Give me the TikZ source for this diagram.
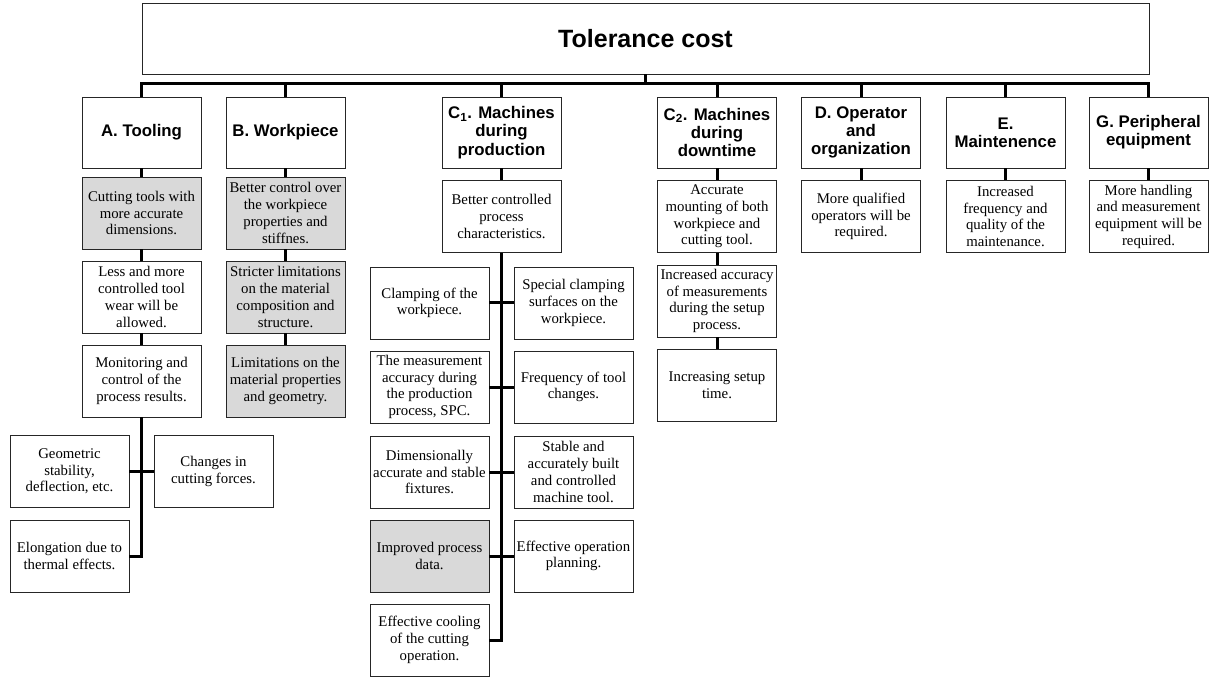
\documentclass[tikz,border=0pt]{standalone}
\usepackage{fontspec}
\setmainfont{Liberation Serif}
\newfontfamily\hdrfont{Liberation Sans}
\definecolor{boxgray}{RGB}{217,217,217}
\begin{document}
\begin{tikzpicture}[x=1pt,y=-1pt,
  box/.style={draw=black!85, line width=0.9pt, fill=white, minimum width=119pt,
    minimum height=72pt, inner sep=0pt, align=center,
    font=\fontsize{14.8}{16.7}\selectfont},
  gbox/.style={box, fill=boxgray},
  hbox/.style={box, minimum height=71pt,
    font=\hdrfont\bfseries\fontsize{16.8}{18.3}\selectfont},
  conn/.style={line width=3pt, draw=black}]
\useasboundingbox (0,0) rectangle (1211,679);

% title
\node[box, minimum width=1007pt, minimum height=71pt,
  font=\hdrfont\bfseries\fontsize{25}{30}\selectfont] (top) at (645.5,38.5) {Tolerance cost};
\coordinate (bus) at (645.5,84);

% headers
\node[hbox] (A)  at (141.5,132.5) {A. Tooling};
\node[hbox] (B)  at (285.5,132.5) {B. Workpiece};
\node[hbox] (C1) at (501.5,132.5) {C\textsubscript{1}. Machines\\during\\production};
\node[hbox] (C2) at (717,132.5)   {C\textsubscript{2}. Machines\\during\\downtime};
\node[hbox] (D)  at (861,132.5)   {D. Operator\\and\\organization};
\node[hbox] (E)  at (1005.5,132.5){E.\\Maintenence};
\node[hbox] (G)  at (1148.5,132.5){G. Peripheral\\equipment};

% column A
\node[gbox] (A1) at (141.5,213) {Cutting tools with\\more accurate\\dimensions.};
\node[box]  (A2) at (141.5,297) {Less and more\\controlled tool\\wear will be\\allowed.};
\node[box]  (A3) at (141.5,381) {Monitoring and\\control of the\\process results.};
\node[box]  (AL1) at (69.5,471.5) {Geometric\\stability,\\deflection, etc.};
\node[box]  (AR1) at (213.5,471.5) {Changes in\\cutting forces.};
\node[box]  (AL2) at (69.5,556) {Elongation due to\\thermal effects.};

% column B
\node[gbox] (B1) at (285.5,213) {Better control over\\the workpiece\\properties and\\stiffnes.};
\node[gbox] (B2) at (285.5,297) {Stricter limitations\\on the material\\composition and\\structure.};
\node[gbox] (B3) at (285.5,381) {Limitations on the\\material properties\\and geometry.};

% column C1
\node[box] (C11) at (501.5,216.5) {Better controlled\\process\\characteristics.};
\node[box] (CL1) at (429.5,303) {Clamping of the\\workpiece.};
\node[box] (CR1) at (573.5,303) {Special clamping\\surfaces on the\\workpiece.};
\node[box] (CL2) at (429.5,387) {The measurement\\accuracy during\\the production\\process, SPC.};
\node[box] (CR2) at (573.5,387) {Frequency of tool\\changes.};
\node[box] (CL3) at (429.5,472) {Dimensionally\\accurate and stable\\fixtures.};
\node[box] (CR3) at (573.5,472) {Stable and\\accurately built\\and controlled\\machine tool.};
\node[gbox] (CL4) at (429.5,556) {Improved process\\data.};
\node[box] (CR4) at (573.5,556) {Effective operation\\planning.};
\node[box] (CL5) at (429.5,640) {Effective cooling\\of the cutting\\operation.};

% column C2
\node[box] (C21) at (717,216.5) {Accurate\\mounting of both\\workpiece and\\cutting tool.};
\node[box] (C22) at (717,301) {Increased accuracy\\of measurements\\during the setup\\process.};
\node[box] (C23) at (717,385) {Increasing setup\\time.};

% D, E, G
\node[box] (D1) at (861,216.5) {More qualified\\operators will be\\required.};
\node[box] (E1) at (1005.5,216.5) {Increased\\frequency and\\quality of the\\maintenance.};
\node[box] (G1) at (1148.5,216.5) {More handling\\and measurement\\equipment will be\\required.};

% connectors
\draw[conn] (top) -- (bus);
\foreach \n in {A,B,C1,C2,D,E,G} \draw[conn] (\n) |- (bus);

\draw[conn] (A) -- (A1);
\draw[conn] (A1) -- (A2);
\draw[conn] (A2) -- (A3);
\draw[conn] (A3) |- (AL2);
\draw[conn] (AL1) -- (AR1);

\draw[conn] (B) -- (B1);
\draw[conn] (B1) -- (B2);
\draw[conn] (B2) -- (B3);

\draw[conn] (C1) -- (C11);
\draw[conn] (C11) |- (CL5);
\draw[conn] (CL1) -- (CR1);
\draw[conn] (CL2) -- (CR2);
\draw[conn] (CL3) -- (CR3);
\draw[conn] (CL4) -- (CR4);

\draw[conn] (C2) -- (C21);
\draw[conn] (C21) -- (C22);
\draw[conn] (C22) -- (C23);

\draw[conn] (D) -- (D1);
\draw[conn] (E) -- (E1);
\draw[conn] (G) -- (G1);
\end{tikzpicture}
\end{document}
